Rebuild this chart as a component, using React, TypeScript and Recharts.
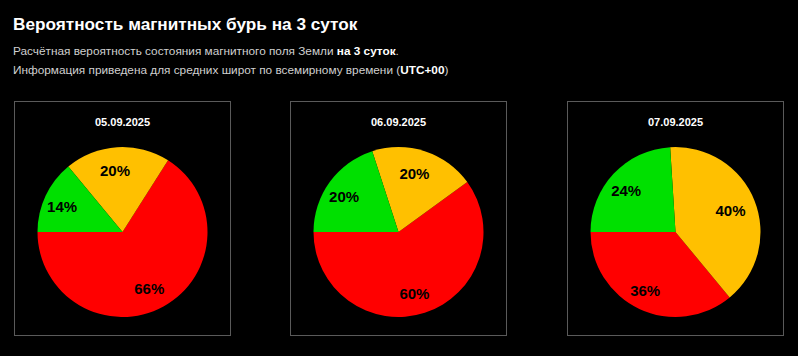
import React from 'react';
import { PieChart, Pie, Cell } from 'recharts';

const dates = ['05.09.2025', '06.09.2025', '07.09.2025'];
const categories = ['Магнитная буря', 'Возмущённое', 'Спокойное'];
const colors = ['#ff0000', '#ffc000', '#00e000'];
const stormValues = [66, 60, 36];
const unsettledValues = [20, 20, 40];
const quietValues = [14, 20, 24];

const FONT = '"Liberation Sans", Arial, sans-serif';
const RADIAN = Math.PI / 180;

const renderLabel = (props: any) => {
  const { cx, cy, midAngle, outerRadius, value } = props;
  const r = outerRadius * 0.74;
  const x = cx + r * Math.cos(-midAngle * RADIAN) - 3.5;
  const y = cy + r * Math.sin(-midAngle * RADIAN) + 1.5;
  return (
    <text
      x={x}
      y={y}
      fill="#000"
      textAnchor="middle"
      dominantBaseline="central"
      fontFamily={FONT}
      fontWeight="bold"
      fontSize={15}
    >
      {`${value}%`}
    </text>
  );
};

const panelLefts = [14, 290, 567];

function DayPanel({ idx }: { idx: number }) {
  const data = categories.map((name, i) => ({
    name,
    value: [stormValues, unsettledValues, quietValues][i][idx],
  }));
  return (
    <div
      style={{
        position: 'absolute',
        left: panelLefts[idx],
        top: 101,
        width: 217,
        height: 235,
        boxSizing: 'border-box',
        border: '1px solid #5a5a5a',
      }}
    >
      <PieChart width={215} height={233} margin={{ top: 0, right: 0, bottom: 0, left: 0 }}>
        <text
          x={107.5}
          y={20}
          textAnchor="middle"
          dominantBaseline="central"
          fill="#fff"
          fontFamily={FONT}
          fontSize={11}
          fontWeight={600}
        >
          {dates[idx]}
        </text>
        <Pie
          data={data}
          dataKey="value"
          nameKey="name"
          cx={107.5}
          cy={130}
          outerRadius={85}
          innerRadius={0}
          startAngle={180}
          endAngle={540}
          stroke="none"
          labelLine={false}
          label={renderLabel}
          isAnimationActive={false}
        >
          {data.map((d, i) => (
            <Cell key={d.name} fill={colors[i]} />
          ))}
        </Pie>
      </PieChart>
    </div>
  );
}

export default function App() {
  return (
    <div
      style={{
        position: 'fixed',
        left: 0,
        top: 0,
        width: 798,
        height: 356,
        background: '#000',
        fontFamily: FONT,
        overflow: 'hidden',
      }}
    >
      <div
        style={{
          position: 'absolute',
          left: 13,
          top: 12,
          color: '#fff',
          fontWeight: 'bold',
          fontSize: 17.2,
          lineHeight: '24px',
          whiteSpace: 'nowrap',
        }}
      >
        Вероятность магнитных бурь на 3 суток
      </div>
      <div
        style={{
          position: 'absolute',
          left: 13,
          top: 41.5,
          color: '#d0d0d0',
          fontSize: 11.8,
          lineHeight: '19px',
          whiteSpace: 'nowrap',
        }}
      >
        <div>
          Расчётная вероятность состояния магнитного поля Земли{' '}
          <b style={{ color: '#fff' }}>на 3 суток</b>.
        </div>
        <div>
          Информация приведена для средних широт по всемирному времени (
          <b style={{ color: '#fff' }}>UTC+00</b>)
        </div>
      </div>
      {dates.map((_, i) => (
        <DayPanel key={i} idx={i} />
      ))}
    </div>
  );
}
